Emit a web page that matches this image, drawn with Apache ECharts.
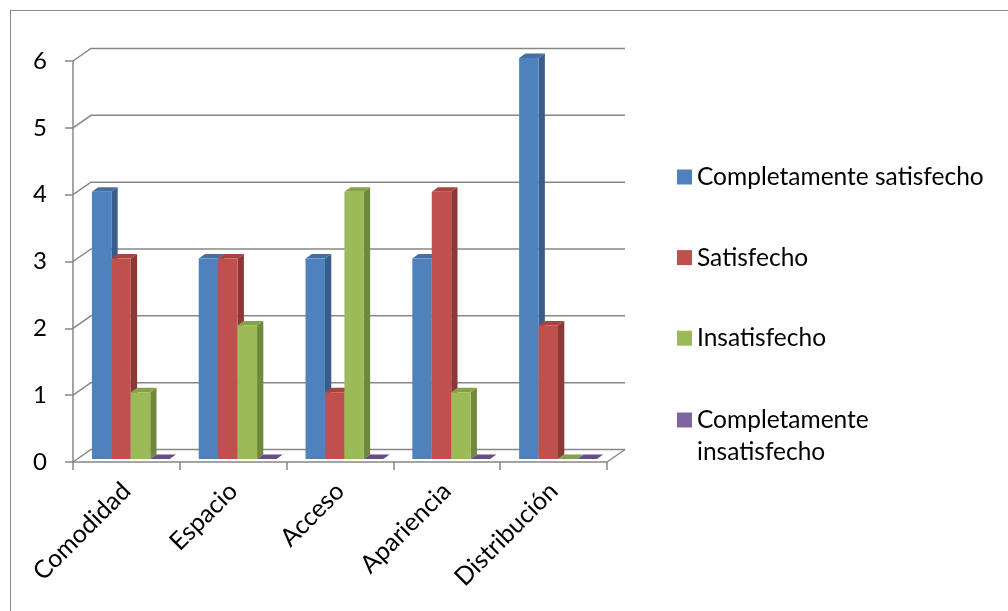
<!DOCTYPE html>
<html>
<head>
<meta charset="utf-8">
<script src="https://cdn.jsdelivr.net/npm/echarts@6/dist/echarts.min.js"></script>
<style>
  html, body { margin: 0; padding: 0; background: #fff; }
  #frame { position: absolute; left: 10px; top: 10px; width: 1100px; height: 700px; border: 1.5px solid #8a8a8a; }
  #chart { position: absolute; left: 0; top: 0; width: 1008px; height: 611px; }
</style>
</head>
<body>
<div id="frame"></div>
<div id="chart"></div>
<script>
// ---- data ----
const categories = ['Comodidad', 'Espacio', 'Acceso', 'Apariencia', 'Distribución'];
const seriesNames = ['Completamente satisfecho', 'Satisfecho', 'Insatisfecho', 'Completamente insatisfecho'];
const completamenteSatisfecho = [4, 3, 3, 3, 6];
const satisfecho = [3, 3, 1, 4, 2];
const insatisfecho = [1, 2, 4, 1, 0];
const completamenteInsatisfecho = [0, 0, 0, 0, 0];
const yTicks = [0, 1, 2, 3, 4, 5, 6];

const seriesValues = [completamenteSatisfecho, satisfecho, insatisfecho, completamenteInsatisfecho];

// ---- style ----
const FONT = 'Lato';
const FS = 24;
const GRID_COLOR = '#878787';
const DX = 18, DY = 12.5;          // wall depth
const FX = 4.4, FY = -3;           // bar front-face offset
const BDX = 6.3, BDY = 4.4;        // bar depth
const BAR_FRAC = 0.182;
const faces = [
  { front: '#4F81BD', side: '#385D8A', top: '#4570A4' },
  { front: '#C0504D', side: '#8C3836', top: '#A6443F' },
  { front: '#9BBB59', side: '#71893F', top: '#84A24A' },
  { front: '#8064A2', side: '#5D4A77', top: '#654E86' }
];

function wallItem(params, api) {
  const cs = params.coordSys;
  const v = api.value(1);
  const y = api.coord([0, v])[1];
  const x0 = cs.x, w = cs.width;
  const children = [{
    type: 'polyline',
    shape: { points: [[x0, y], [x0 + DX, y - DY], [x0 + w + DX, y - DY]] },
    style: { stroke: GRID_COLOR, lineWidth: 1.5, fill: null }
  }];
  if (v === 0) {
    children.push({
      type: 'polyline',
      shape: { points: [[x0 + w, y], [x0 + w + DX, y - DY]] },
      style: { stroke: GRID_COLOR, lineWidth: 1.5, fill: null }
    });
  }
  return { type: 'group', children: children };
}

function makeBarRender(s) {
  return function (params, api) {
    const cat = api.value(0), v = api.value(1);
    const base = api.coord([cat, 0]);
    const top = api.coord([cat, v]);
    const band = api.size([1, 0])[0];
    const bw = band * BAR_FRAC;
    const xL = base[0] - 2 * bw + s * bw + FX;
    const xR = xL + bw;
    const yB = base[1] + FY;
    const yT = top[1] + FY;
    const f = faces[s];
    return {
      type: 'group',
      children: [
        { type: 'polygon', shape: { points: [[xR, yT], [xR + BDX, yT - BDY], [xR + BDX, yB - BDY], [xR, yB]] }, style: { fill: f.side } },
        { type: 'polygon', shape: { points: [[xL, yT], [xR, yT], [xR + BDX, yT - BDY], [xL + BDX, yT - BDY]] }, style: { fill: f.top } },
        { type: 'rect', shape: { x: xL, y: yT, width: bw, height: yB - yT }, style: { fill: f.front } }
      ]
    };
  };
}

const series = [{
  type: 'custom',
  name: '_walls',
  silent: true,
  clip: false,
  z: 1,
  renderItem: wallItem,
  data: yTicks.map(v => [0, v])
}];
seriesValues.forEach((vals, s) => {
  series.push({
    type: 'custom',
    name: seriesNames[s],
    clip: false,
    z: 2,
    itemStyle: { color: faces[s].front },
    renderItem: makeBarRender(s),
    encode: { x: 0, y: 1 },
    data: vals.map((v, i) => [i, v])
  });
});

const chart = echarts.init(document.getElementById('chart'), null, { renderer: 'canvas' });
chart.setOption({
  animation: false,
  color: faces.map(f => f.front),
  textStyle: { fontFamily: FONT },
  grid: { left: 73, right: 401, top: 61, bottom: 149, containLabel: false },
  legend: [{
    orient: 'vertical',
    left: 677, top: 161, padding: 0,
    itemWidth: 15, itemHeight: 15, itemGap: 48.6,
    icon: 'rect',
    data: seriesNames.slice(0, 3),
    textStyle: { fontFamily: FONT, fontSize: FS + 0.5, color: '#000', lineHeight: 32 }
  }, {
    orient: 'vertical',
    left: 677, top: 372, padding: 0,
    itemWidth: 15, itemHeight: 15,
    icon: 'rect',
    data: seriesNames.slice(3),
    formatter: function (name) { return '\n' + name.replace(' ', '\n'); },
    textStyle: { fontFamily: FONT, fontSize: FS + 0.5, color: '#000', lineHeight: 32 }
  }],
  xAxis: {
    type: 'category',
    data: categories,
    boundaryGap: true,
    axisLine: { show: true, lineStyle: { color: GRID_COLOR, width: 1.5 } },
    axisTick: { show: true, length: 8, alignWithLabel: false, lineStyle: { color: GRID_COLOR, width: 1.5 } },
    axisLabel: { rotate: 45, margin: 25, fontFamily: FONT, fontSize: FS + 1, color: '#000', interval: 0 },
    splitLine: { show: false }
  },
  yAxis: {
    type: 'value',
    min: 0, max: 6, interval: 1,
    axisLine: { show: true, lineStyle: { color: GRID_COLOR, width: 1.5 } },
    axisTick: { show: true, length: 8, lineStyle: { color: GRID_COLOR, width: 1.5 } },
    axisLabel: { margin: 26, fontFamily: FONT, fontSize: FS, color: '#000' },
    splitLine: { show: false }
  },
  series: series
});
</script>
</body>
</html>
